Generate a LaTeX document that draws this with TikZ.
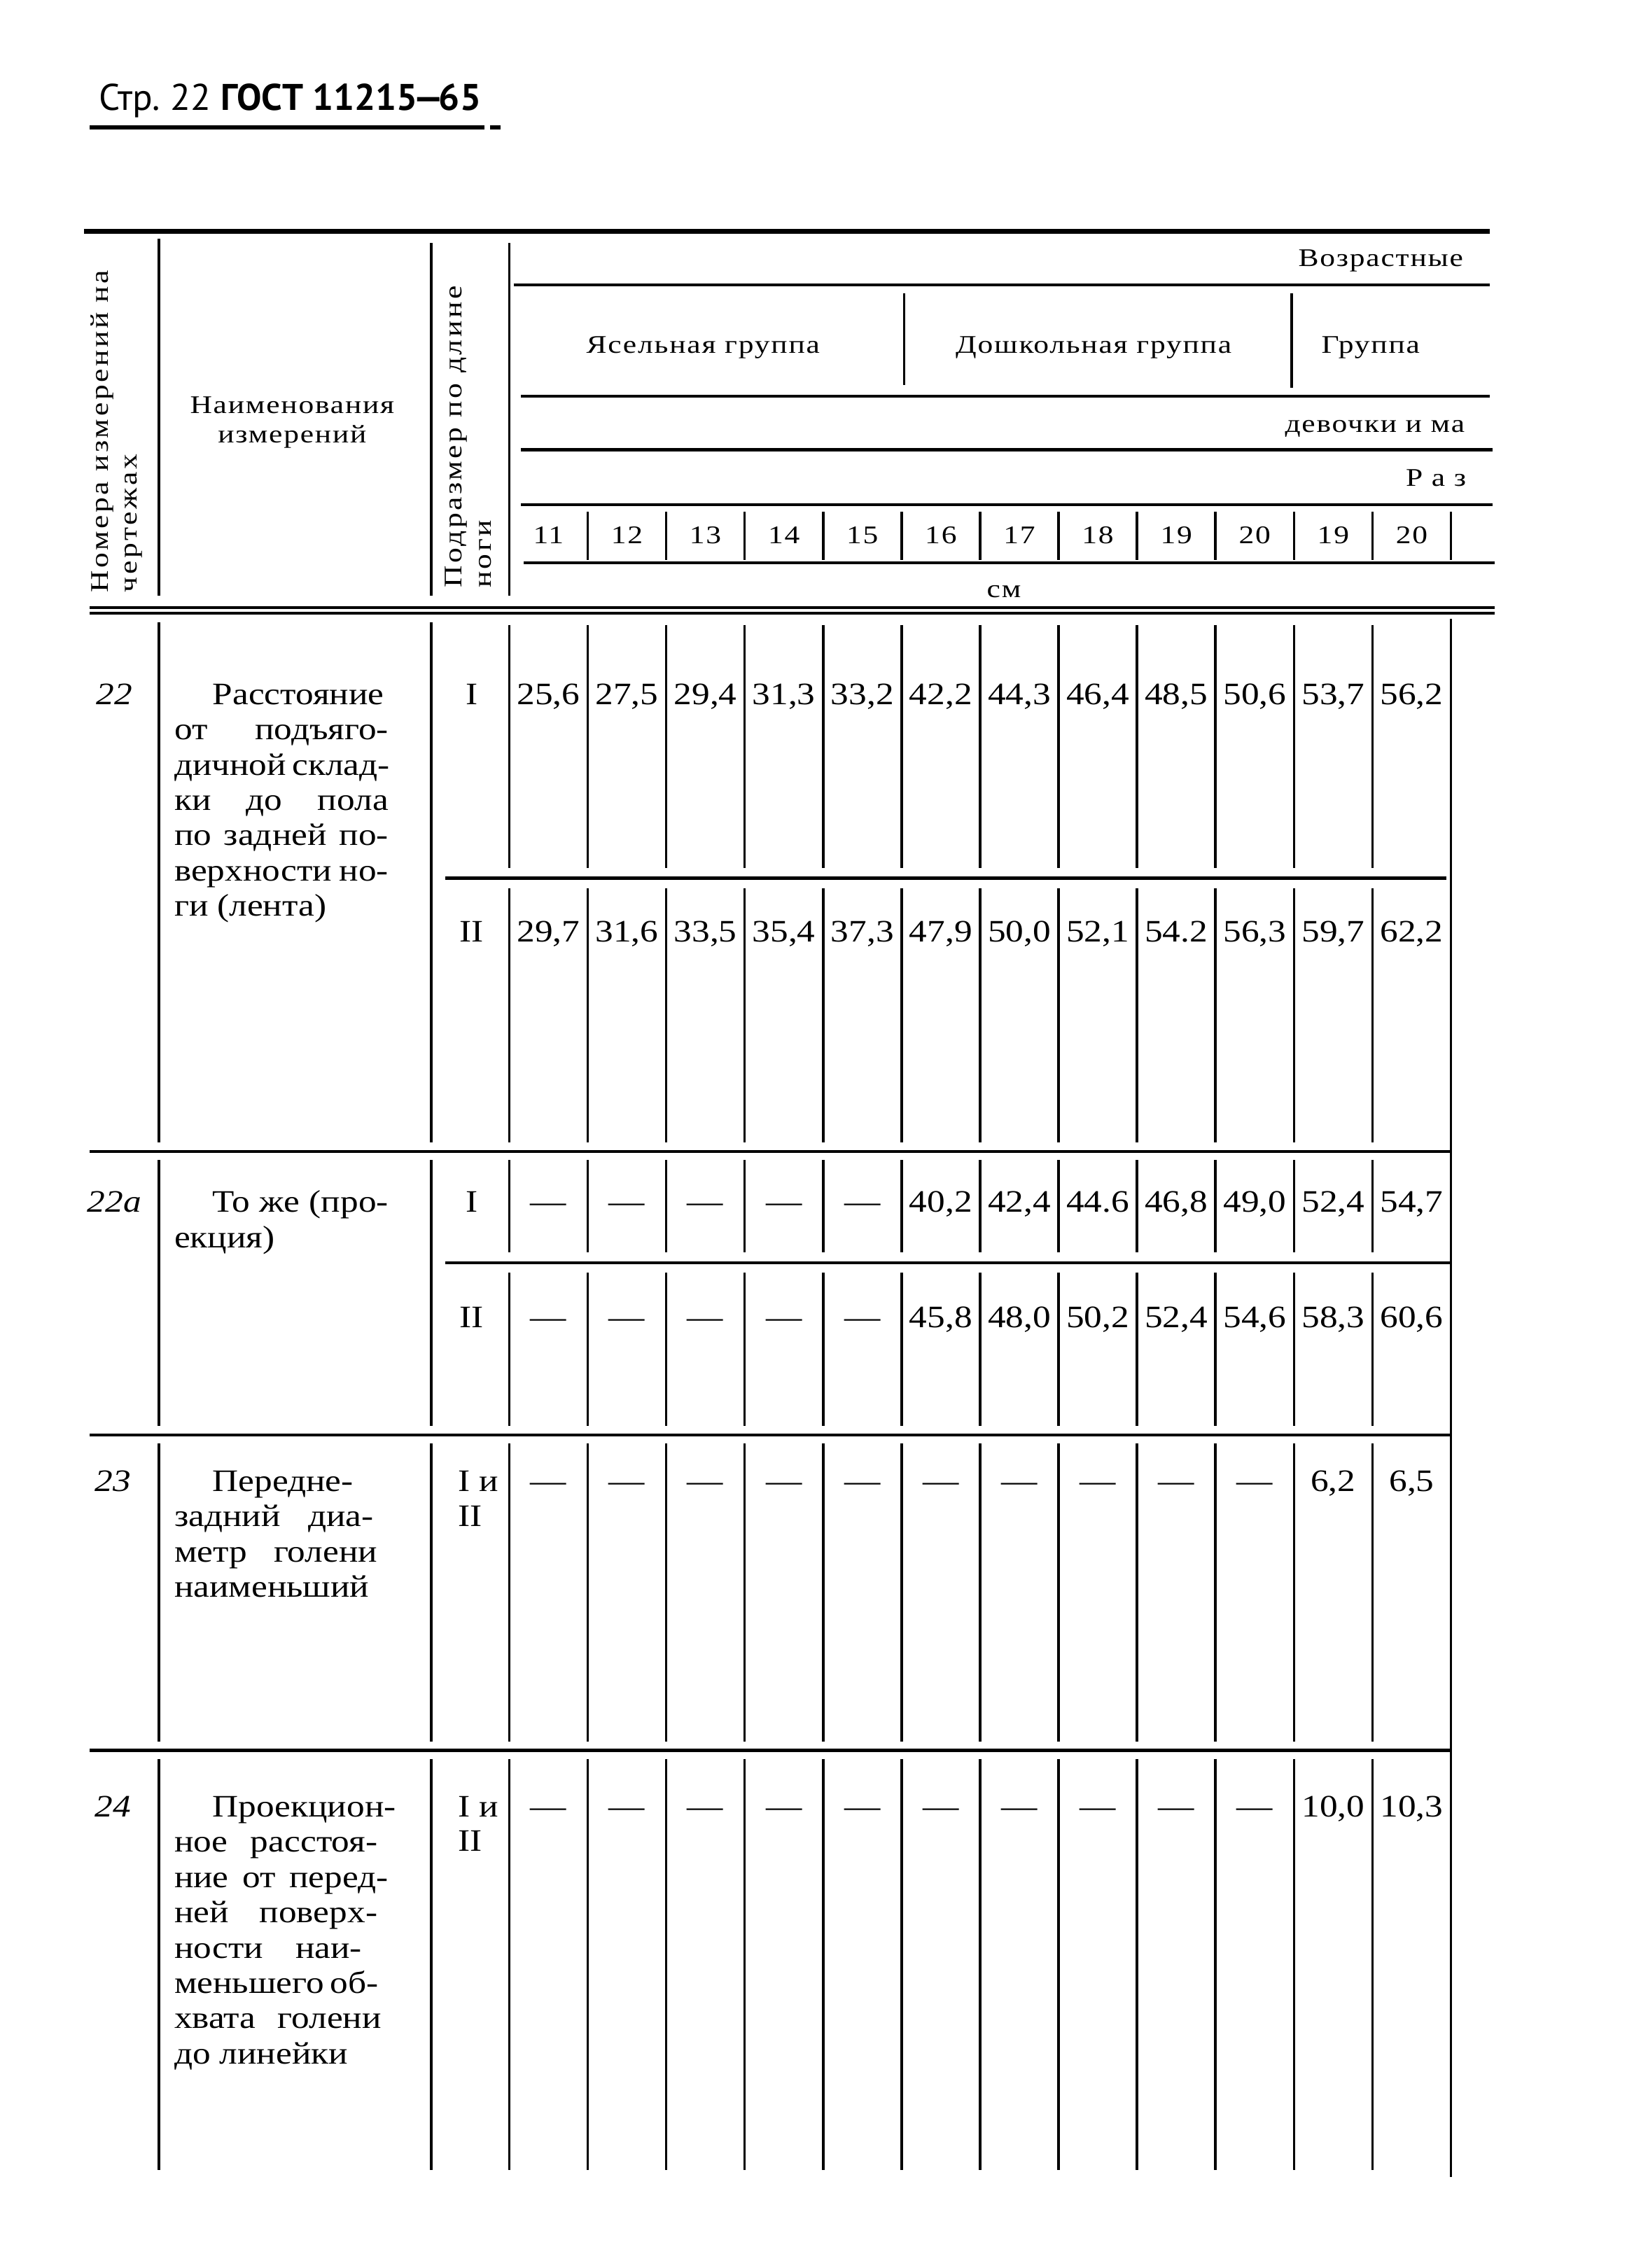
\documentclass[tikz,border=0pt]{standalone}
\usepackage{fontspec}
\setmainfont{Liberation Serif}[FakeStretch=1.15]
\newfontfamily\hdfam{Liberation Serif}[FakeStretch=1.2,LetterSpace=5]
\newfontfamily\hdwide{Liberation Serif}[FakeStretch=1.2,LetterSpace=10]
\newfontfamily\ttlfam{PT Sans}
\usepackage{tikz}
\newcommand{\bodyf}{\fontsize{8}{9}\selectfont}
\newcommand{\hdf}{\hdfam\fontsize{6.5}{7.5}\selectfont}
\newcommand{\jl}[1]{\makebox[54.8pt][s]{#1}}
\newcommand{\cx}[1]{352+54.25*(#1)}
\newcommand{\vcols}[2]{
	\foreach \k in {0,...,11}\draw[vl]({\cx{\k}},#1)--({\cx{\k}},#2);
}
\newcommand{\vals}[3]{
	\foreach \v [count=\i] in {#3}\node[val](#1-\i) at ({\cx{\i-0.5}},#2){\v};
}
\newcommand{\namelines}[3]{
	\foreach \t [count=\j from 0] in {#3}\node[nm](#1-\j) at (120,{#2+24.4*\j}){\t};
}
\tikzset{
	hl/.style={line width=0.8pt},
	vl/.style={line width=0.65pt},
	val/.style={font=\bodyf, inner sep=0pt, anchor=base},
	nm/.style={font=\bodyf, inner sep=0pt, anchor=base west},
	hd/.style={font=\hdf, inner sep=0pt, anchor=base},
}

\begin{document}
\begin{tikzpicture}[x=0.3704pt,y=-0.3704pt]
	\useasboundingbox (0,0) rectangle (1134,1568);
	\node[inner sep=0pt, anchor=base west, font=\ttlfam\fontsize{9.5}{11}\selectfont] (ttl) at (68,76) {Стр.~22 \textbf{ГОСТ 11215\kern-1.2pt—\kern-1.2pt65}};
	\draw[line width=1.1pt](62,88)--(335,88) (339,88)--(346,88);
	% head
	\draw[line width=1.3pt](58,160)--(1030,160);
	\draw[vl](110,165)--(110,412) (298,168)--(298,412) (352,168)--(352,412);
	\node[hd, font=\hdwide\fontsize{6.5}{7.5}\selectfont, anchor=north west, rotate=90, align=left] (hnum) at (62,410) {Номера измерений на\\чертежах};
	\node[hd, anchor=center, align=center] (hname) at (202,292) {Наименования\\измерений};
	\node[hd, font=\hdwide\fontsize{6.5}{7.5}\selectfont, anchor=north west, rotate=90, align=left] (hsub) at (307,407) {Подразмер по длине\\ноги};
	\draw[hl](355,197)--(1030,197) (360,274)--(1030,274) (360,311)--(1032,311) (360,349)--(1032,349) (362,389)--(1033,389);
	\draw[line width=0.6pt](62,420)--(1033,420) (62,424)--(1033,424);
	\draw[vl](625,203)--(625,266) (893,203)--(893,268);
	\foreach \k in {1,...,12}\draw[vl]({\cx{\k}},354)--({\cx{\k}},387);
	\node[hd, anchor=base east] (vozr) at (1012,184) {Возрастные};
	\node[hd] (yas) at (486,244) {Ясельная группа};
	\node[hd] (dosh) at (756,244) {Дошкольная группа};
	\node[hd, anchor=base west] (grp) at (913,244) {Группа};
	\node[hd, anchor=base east] (dev) at (1013,299) {девочки и ма};
	\node[hd, anchor=base east] (raz) at (1014,336) {Р а з};
	\foreach \s [count=\i] in {11,12,13,14,15,16,17,18,19,20,19,20}
		\node[hd] (sz-\i) at ({\cx{\i-0.5}},376) {\s};
	\node[hd] (cm) at (694,413) {см};
	% body
	\draw[vl](1003,428)--(1003,1505);
	\draw[vl](110,430)--(110,790) (298,430)--(298,790);
	\vcols{432}{600}\vcols{614}{790}
	\draw[hl](308,607)--(1000,607) (62,796)--(1003,796);
	\draw[vl](110,802)--(110,986) (298,802)--(298,986);
	\vcols{802}{866}\vcols{880}{986}
	\draw[hl](308,873)--(1003,873) (62,992)--(1003,992);
	\draw[vl](110,998)--(110,1204) (298,998)--(298,1204);
	\vcols{998}{1204}
	\draw[hl](62,1210)--(1003,1210);
	\draw[vl](110,1216)--(110,1500) (298,1216)--(298,1500);
	\vcols{1216}{1500}
	\node[val, font=\bodyf\itshape] (no22) at (79,487) {22};
	\node[val, font=\bodyf\itshape] (no22a) at (79,838) {22а};
	\node[val, font=\bodyf\itshape] (no23) at (78,1031) {23};
	\node[val, font=\bodyf\itshape] (no24) at (78,1256) {24};
	\namelines{n22}{487}{{\jl{\hspace*{9.8pt}Расстояние}},{\jl{от подъяго-}},{\jl{дичной склад-}},{\jl{ки до пола}},{\jl{по задней по-}},{\jl{верхности но-}},{ги (лента)}}
	\namelines{n22a}{838}{{\jl{\hspace*{9.8pt}То же (про-}},{екция)}}
	\namelines{n23}{1031}{{\hspace*{9.8pt}Передне-},{\makebox[51pt][s]{задний диа-}},{\makebox[52pt][s]{метр голени}},{наименьший}}
	\namelines{n24}{1256}{{\jl{\hspace*{9.8pt}Проекцион-}},{\makebox[52pt][s]{ное расстоя-}},{\jl{ние от перед-}},{\makebox[52pt][s]{ней поверх-}},{\makebox[48pt][s]{ности наи-}},{\makebox[52pt][s]{меньшего об-}},{\makebox[53pt][s]{хвата голени}},{до линейки}}
	\node[val] (s22-1) at (326,487) {I};
	\node[val] (s22-2) at (326,651) {II};
	\node[val] (s22a-1) at (326,838) {I};
	\node[val] (s22a-2) at (326,918) {II};
	\node[nm] (s23-1) at (316,1031) {I и};
	\node[nm] (s23-2) at (316,1055) {II};
	\node[nm] (s24-1) at (316,1256) {I и};
	\node[nm] (s24-2) at (316,1280) {II};
	\vals{r22i}{487}{{25,6},{27,5},{29,4},{31,3},{33,2},{42,2},{44,3},{46,4},{48,5},{50,6},{53,7},{56,2}}
	\vals{r22ii}{651}{{29,7},{31,6},{33,5},{35,4},{37,3},{47,9},{50,0},{52,1},{54.2},{56,3},{59,7},{62,2}}
	\vals{r22ai}{838}{—,—,—,—,—,{40,2},{42,4},{44.6},{46,8},{49,0},{52,4},{54,7}}
	\vals{r22aii}{918}{—,—,—,—,—,{45,8},{48,0},{50,2},{52,4},{54,6},{58,3},{60,6}}
	\vals{r23}{1031}{—,—,—,—,—,—,—,—,—,—,{6,2},{6,5}}
	\vals{r24}{1256}{—,—,—,—,—,—,—,—,—,—,{10,0},{10,3}}
\end{tikzpicture}
\end{document}
